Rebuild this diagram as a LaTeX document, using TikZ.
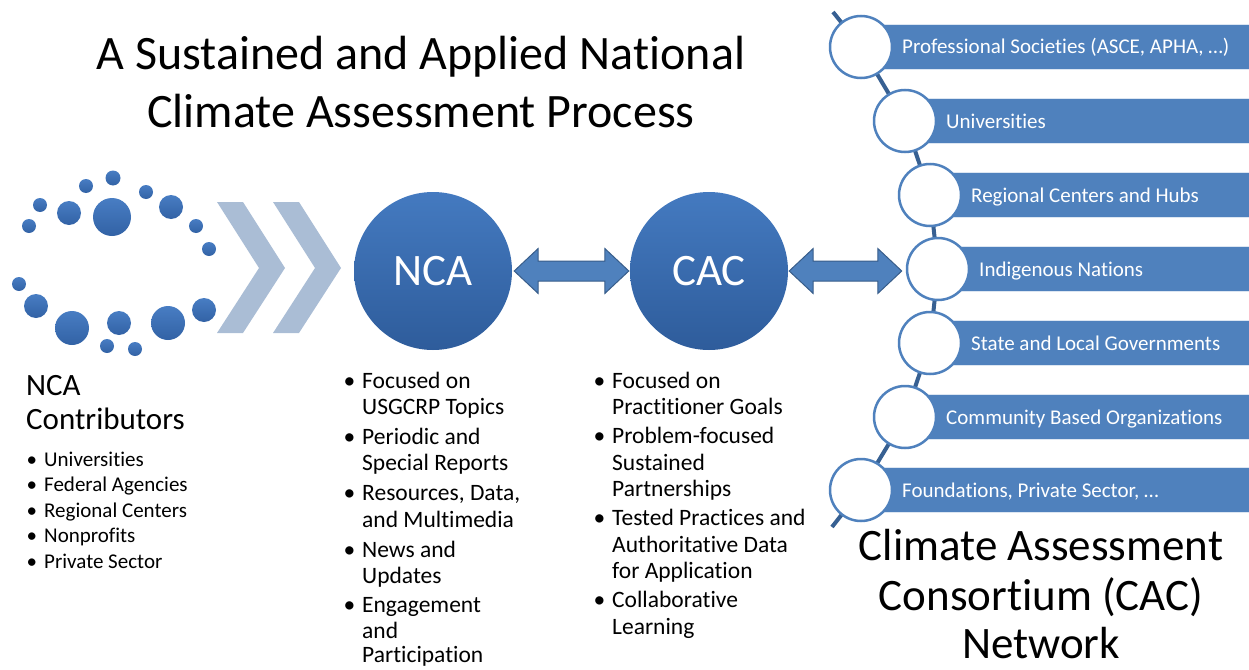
\documentclass[tikz,border=0pt]{standalone}
\usepackage{fontspec}
\setmainfont{Carlito}[Ligatures={NoCommon}]
\usetikzlibrary{calc}
\definecolor{barblue}{RGB}{79,129,189}
\definecolor{edgeblue}{RGB}{56,93,138}
\definecolor{chainblue}{RGB}{55,96,146}
\definecolor{dottop}{RGB}{72,125,195}
\definecolor{dotbot}{RGB}{50,98,165}
\definecolor{chev}{RGB}{170,189,213}
\definecolor{bigtop}{RGB}{68,122,192}
\definecolor{bigbot}{RGB}{46,92,155}
\newcommand\bp{\llap{\textbullet\hspace{7pt}}}
\newcommand\dblarr[2]{%
  \filldraw[arrowst] let \p1=(#1), \p2=(#2) in
    (\x1,\y1) -- (\x1+24pt,\y1+22.5pt) -- (\x1+24pt,\y1+10pt) -- (\x2-24pt,\y1+10pt)
    -- (\x2-24pt,\y1+22.5pt) -- (\x2,\y1) -- (\x2-24pt,\y1-22.5pt) -- (\x2-24pt,\y1-10pt)
    -- (\x1+24pt,\y1-10pt) -- (\x1+24pt,\y1-22.5pt) -- cycle;}
\begin{document}
\begin{tikzpicture}[x=1pt,y=-1pt,
  titletxt/.style={anchor=base,inner sep=0pt,font=\fontsize{48}{57}\selectfont},
  headtxt/.style={anchor=base west,inner sep=0pt,font=\fontsize{31}{36}\selectfont},
  litem/.style={anchor=base west,inner sep=0pt,font=\fontsize{21}{25}\selectfont},
  nitem/.style={anchor=base west,inner sep=0pt,font=\fontsize{23.5}{26}\selectfont},
  bigcirc/.style={circle,minimum size=158pt,inner sep=0pt,shade,top color=bigtop,bottom color=bigbot,
    text=white,font=\fontsize{45}{50}\selectfont},
  arrowst/.style={fill=barblue,draw=edgeblue,line width=1pt,line join=miter},
  dot/.style={top color=dottop,bottom color=dotbot},
  chevron/.style={fill=chev},
  ring/.style={circle,minimum size=62pt,inner sep=0pt,draw=barblue,line width=2.5pt,fill=white},
  bar/.style={fill=barblue,draw=white!80!barblue,line width=0.6pt},
  bartext/.style={anchor=base west,inner sep=0pt,text=white,font=\fontsize{21}{25}\selectfont},
  chain/.style={draw=chainblue,line width=4pt},
  cactitle/.style={anchor=base,inner sep=0pt,font=\fontsize{45}{50}\selectfont}]
\useasboundingbox (0,0) rectangle (1249,669);

% Title
\node[titletxt] (title1) at (421,70) {A Sustained and Applied National};
\node[titletxt] (title2) at (421,127) {Climate Assessment Process};

% Dots
\foreach \x/\y/\r in {113/178/7.5, 86/186/7, 40/205/7, 29/226/7, 69/213/12, 112/217/19,
  146/192/7, 171/207/12, 196/226/7, 209/249/7, 19/284/7, 36/306/12, 72/328/17,
  119/323/12, 168/323/17, 204/310/12, 107/346/7, 135/349/7}
  \shade[dot] (\x,\y) circle (\r);

% Chevrons
\foreach \dx in {0,56}
  \fill[chevron] (217+\dx,202) -- (243+\dx,202) -- (285+\dx,268) -- (243+\dx,333)
    -- (217+\dx,333) -- (259+\dx,268) -- cycle;

% Big circles
\node[bigcirc] (nca) at (433,271) {NCA};
\node[bigcirc] (cac) at (709,271) {CAC};

% Right network
\coordinate (c1) at (861,47);
\coordinate (c2) at (905,121);
\coordinate (c3) at (930,195);
\coordinate (c4) at (938,269);
\coordinate (c5) at (930,343);
\coordinate (c6) at (905,417);
\coordinate (c7) at (861,490);
\coordinate (ctop) at (833,12);
\coordinate (cbot) at (832,527);

\foreach \i in {1,...,7}
  \path[bar] ($(c\i)+(0,-22.5)$) rectangle ($(c\i)+(400,22.5)$);

\draw[chain] (ctop) -- (c1) -- (c2) -- (c3) -- (c4) -- (c5) -- (c6) -- (c7) -- (cbot);

\foreach \i in {1,...,7}
  \node[ring] (r\i) at (c\i) {};

\node[bartext] (t1) at ($(c1)+(41,7)$) {Professional Societies (ASCE, APHA, …)};
\node[bartext] (t2) at ($(c2)+(41,7)$) {Universities};
\node[bartext] (t3) at ($(c3)+(41,7)$) {Regional Centers and Hubs};
\node[bartext] (t4) at ($(c4)+(41,7)$) {Indigenous Nations};
\node[bartext] (t5) at ($(c5)+(41,7)$) {State and Local Governments};
\node[bartext] (t6) at ($(c6)+(41,7)$) {Community Based Organizations};
\node[bartext] (t7) at ($(c7)+(41,7)$) {Foundations, Private Sector, …};

% Double arrows
\dblarr{$(nca.east)+(2,0)$}{$(cac.west)+(-1,0)$}
\dblarr{$(cac.east)+(1,0)$}{$(r4.west)+(-4,0)$}

% Left text
\node[headtxt] (h1) at (26,395) {NCA};
\node[headtxt] (h2) at (26,429) {Contributors};
\node[litem] (l1) at (44,466) {\bp Universities};
\node[litem] (l2) at (44,491.5) {\bp Federal Agencies};
\node[litem] (l3) at (44,517) {\bp Regional Centers};
\node[litem] (l4) at (44,542.5) {\bp Nonprofits};
\node[litem] (l5) at (44,568) {\bp Private Sector};

% NCA list
\node[nitem] (n1) at (362,388) {\bp Focused on};
\node[nitem] (n2) at (362,414.5) {USGCRP Topics};
\node[nitem] (n3) at (362,444) {\bp Periodic and};
\node[nitem] (n4) at (362,470.5) {Special Reports};
\node[nitem] (n5) at (362,500.5) {\bp Resources, Data,};
\node[nitem] (n6) at (362,527) {and Multimedia};
\node[nitem] (n7) at (362,557) {\bp News and};
\node[nitem] (n8) at (362,583.5) {Updates};
\node[nitem] (n9) at (362,612) {\bp Engagement};
\node[nitem] (n10) at (362,638) {and};
\node[nitem] (n11) at (362,662.5) {Participation};

% CAC list
\node[nitem] (k1) at (612,388) {\bp Focused on};
\node[nitem] (k2) at (612,414.5) {Practitioner Goals};
\node[nitem] (k3) at (612,443.5) {\bp Problem-focused};
\node[nitem] (k4) at (612,470) {Sustained};
\node[nitem] (k5) at (612,496.5) {Partnerships};
\node[nitem] (k6) at (612,525.5) {\bp Tested Practices and};
\node[nitem] (k7) at (612,552) {Authoritative Data};
\node[nitem] (k8) at (612,578.5) {for Application};
\node[nitem] (k9) at (612,607.5) {\bp Collaborative};
\node[nitem] (k10) at (612,634) {Learning};

% CAC network title
\node[cactitle] (ct1) at (1041,560) {Climate Assessment};
\node[cactitle] (ct2) at (1041,610) {Consortium (CAC)};
\node[cactitle] (ct3) at (1041,658) {Network};
\end{tikzpicture}
\end{document}
